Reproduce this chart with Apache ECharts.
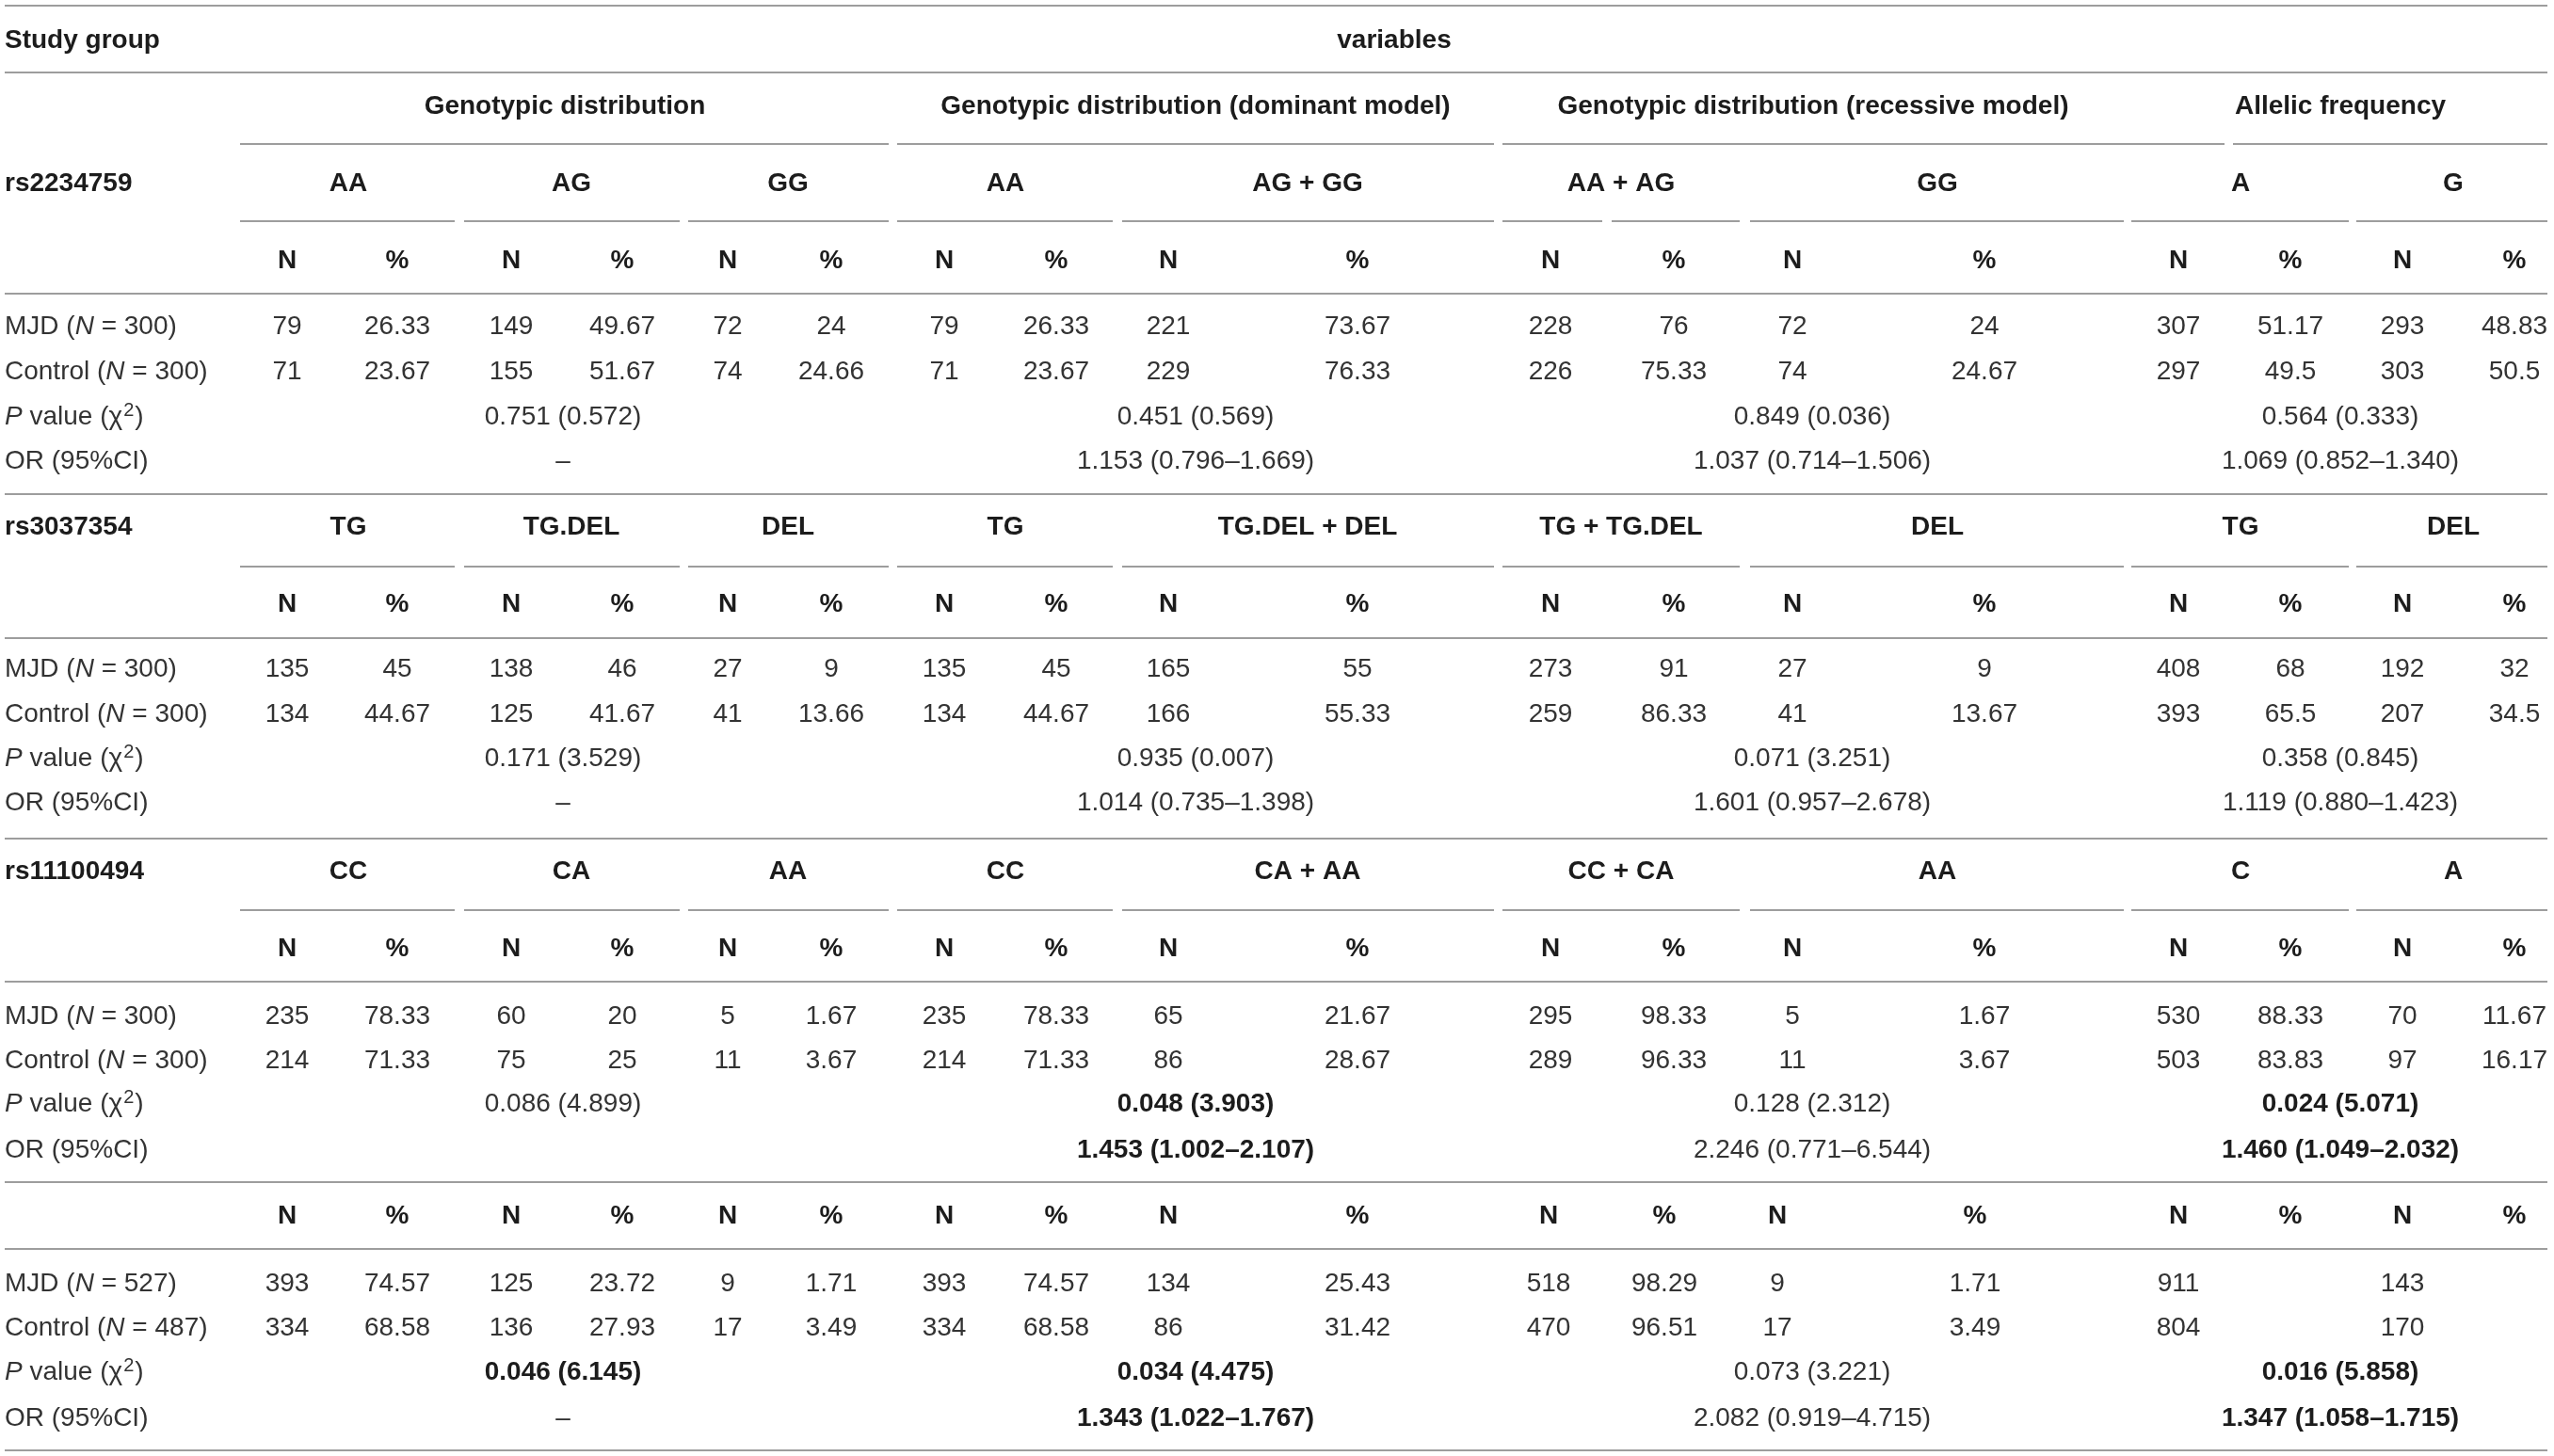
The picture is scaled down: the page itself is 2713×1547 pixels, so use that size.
<!DOCTYPE html>
<html>
<head>
<meta charset="utf-8">
<script src="https://cdn.jsdelivr.net/npm/echarts@6/dist/echarts.min.js"></script>
<style>
  html, body { margin: 0; padding: 0; background: #fff; }
  #table { width: 2713px; height: 1547px; }
</style>
</head>
<body>
<div id="table"></div>
<script>
// ---- table content ----
var titleLeft = 'Study group';
var titleTop = 'variables';
var groupHeaders = ['Genotypic distribution', 'Genotypic distribution (dominant model)',
  'Genotypic distribution (recessive model)', 'Allelic frequency'];
var snpNames = ['rs2234759', 'rs3037354', 'rs11100494', ''];
var countHeaders = ['N', '%', 'N', '%', 'N', '%', 'N', '%', 'N', '%', 'N', '%', 'N', '%', 'N', '%', 'N', '%'];

var subHeaders1 = ['AA', 'AG', 'GG', 'AA', 'AG + GG', 'AA + AG', 'GG', 'A', 'G'];
var subHeaders2 = ['TG', 'TG.DEL', 'DEL', 'TG', 'TG.DEL + DEL', 'TG + TG.DEL', 'DEL', 'TG', 'DEL'];
var subHeaders3 = ['CC', 'CA', 'AA', 'CC', 'CA + AA', 'CC + CA', 'AA', 'C', 'A'];

var mjdSizes = [300, 300, 300, 527];
var controlSizes = [300, 300, 300, 487];

var mjd1 = [79, 26.33, 149, 49.67, 72, 24, 79, 26.33, 221, 73.67, 228, 76, 72, 24, 307, 51.17, 293, 48.83];
var control1 = [71, 23.67, 155, 51.67, 74, 24.66, 71, 23.67, 229, 76.33, 226, 75.33, 74, 24.67, 297, 49.5, 303, 50.5];
var pValue1 = ['0.751 (0.572)', '0.451 (0.569)', '0.849 (0.036)', '0.564 (0.333)'];
var orValue1 = ['–', '1.153 (0.796–1.669)', '1.037 (0.714–1.506)', '1.069 (0.852–1.340)'];

var mjd2 = [135, 45, 138, 46, 27, 9, 135, 45, 165, 55, 273, 91, 27, 9, 408, 68, 192, 32];
var control2 = [134, 44.67, 125, 41.67, 41, 13.66, 134, 44.67, 166, 55.33, 259, 86.33, 41, 13.67, 393, 65.5, 207, 34.5];
var pValue2 = ['0.171 (3.529)', '0.935 (0.007)', '0.071 (3.251)', '0.358 (0.845)'];
var orValue2 = ['–', '1.014 (0.735–1.398)', '1.601 (0.957–2.678)', '1.119 (0.880–1.423)'];

var mjd3 = [235, 78.33, 60, 20, 5, 1.67, 235, 78.33, 65, 21.67, 295, 98.33, 5, 1.67, 530, 88.33, 70, 11.67];
var control3 = [214, 71.33, 75, 25, 11, 3.67, 214, 71.33, 86, 28.67, 289, 96.33, 11, 3.67, 503, 83.83, 97, 16.17];
var pValue3 = ['0.086 (4.899)', '0.048 (3.903)', '0.128 (2.312)', '0.024 (5.071)'];
var orValue3 = ['', '1.453 (1.002–2.107)', '2.246 (0.771–6.544)', '1.460 (1.049–2.032)'];
var pBold3 = [false, true, false, true];
var orBold3 = [false, true, false, true];

var mjd4 = [393, 74.57, 125, 23.72, 9, 1.71, 393, 74.57, 134, 25.43, 518, 98.29, 9, 1.71, 911, null, 143, null];
var control4 = [334, 68.58, 136, 27.93, 17, 3.49, 334, 68.58, 86, 31.42, 470, 96.51, 17, 3.49, 804, null, 170, null];
var pValue4 = ['0.046 (6.145)', '0.034 (4.475)', '0.073 (3.221)', '0.016 (5.858)'];
var orValue4 = ['–', '1.343 (1.022–1.767)', '2.082 (0.919–4.715)', '1.347 (1.058–1.715)'];
var pBold4 = [true, true, false, true];
var orBold4 = [false, true, false, true];

var noBold = [false, false, false, false];

// ---- layout (pixels of the 2713 x 1547 page) ----
var W = 2713, H = 1547;
var leftX = 5, rightX = 2706;
var colX = [305, 422, 543, 661, 773, 883, 1003, 1122, 1241, 1442, 1647, 1778, 1904, 2108, 2314, 2433, 2552, 2671];
var colXLast = [305, 422, 543, 661, 773, 883, 1003, 1122, 1241, 1442, 1645, 1768, 1888, 2098, 2314, 2433, 2552, 2671];
var subX = [370, 607, 837, 1068, 1389, 1722, 2058, 2380, 2606];
var subSpans = [[255, 483], [493, 722], [731, 944], [953, 1182], [1192, 1587], [1596, 1848], [1859, 2256], [2264, 2495], [2503, 2706]];
var groupX = [600, 1270, 1926, 2486];
var groupSpans = [[255, 944], [953, 1587], [1596, 2363], [2372, 2706]];
var statX = [598, 1270, 1925, 2486];
var titleY = 43, groupY = 113, groupLineY = 153;
var fullLines = [6, 77];
var blocks = [
  { subs: subHeaders1, mjd: mjd1, ctrl: control1, p: pValue1, or: orValue1, pb: noBold, ob: noBold,
    snpY: 195, subLineY: 235, countY: 277, lineY: 312, rows: [347, 395, 443, 490], endY: 525, cols: colX, splitSub: true },
  { subs: subHeaders2, mjd: mjd2, ctrl: control2, p: pValue2, or: orValue2, pb: noBold, ob: noBold,
    snpY: 560, subLineY: 602, countY: 642, lineY: 678, rows: [711, 759, 806, 853], endY: 891, cols: colX },
  { subs: subHeaders3, mjd: mjd3, ctrl: control3, p: pValue3, or: orValue3, pb: pBold3, ob: orBold3,
    snpY: 926, subLineY: 967, countY: 1008, lineY: 1043, rows: [1080, 1127, 1173, 1222], endY: 1256, cols: colX },
  { subs: null, mjd: mjd4, ctrl: control4, p: pValue4, or: orValue4, pb: pBold4, ob: orBold4,
    snpY: null, subLineY: null, countY: 1292, lineY: 1327, rows: [1364, 1411, 1458, 1507], endY: 1541, cols: colXLast }
];

// ---- build cells and rules ----
var cells = [];
var rules = [];
function addText(x, y, text, bold, align) {
  if (text === null || text === '') return;
  cells.push({ value: [x, y], text: String(text), bold: !!bold, align: align || 'center' });
}
function addRule(x1, x2, y) { rules.push([x1, y, x2]); }

fullLines.forEach(function (y) { addRule(leftX, rightX, y); });
addText(leftX, titleY, titleLeft, true, 'left');
addText(1481, titleY, titleTop, true);
groupHeaders.forEach(function (g, i) {
  addText(groupX[i], groupY, g, true);
  addRule(groupSpans[i][0], groupSpans[i][1], groupLineY);
});

blocks.forEach(function (b, bi) {
  if (b.snpY !== null) {
    addText(leftX, b.snpY, snpNames[bi], true, 'left');
    b.subs.forEach(function (s, i) {
      addText(subX[i], b.snpY, s, true);
      var sp = subSpans[i];
      if (b.splitSub && i === 5) {
        addRule(sp[0], 1702, b.subLineY);
        addRule(1712, sp[1], b.subLineY);
      } else {
        addRule(sp[0], sp[1], b.subLineY);
      }
    });
  }
  countHeaders.forEach(function (h, i) { addText(b.cols[i], b.countY, h, true); });
  addRule(leftX, rightX, b.lineY);
  addText(leftX, b.rows[0], 'MJD ({i|N} = ' + mjdSizes[bi] + ')', false, 'left');
  addText(leftX, b.rows[1], 'Control ({i|N} = ' + controlSizes[bi] + ')', false, 'left');
  addText(leftX, b.rows[2], '{i|P} value (χ{sup|2})', false, 'left');
  addText(leftX, b.rows[3], 'OR (95%CI)', false, 'left');
  b.mjd.forEach(function (v, i) { addText(b.cols[i], b.rows[0], v, false); });
  b.ctrl.forEach(function (v, i) { addText(b.cols[i], b.rows[1], v, false); });
  b.p.forEach(function (v, i) { addText(statX[i], b.rows[2], v, b.pb[i]); });
  b.or.forEach(function (v, i) { addText(statX[i], b.rows[3], v, b.ob[i]); });
  addRule(leftX, rightX, b.endY);
});

// ---- styles ----
var FONT = '"Liberation Sans", Arial, Helvetica, sans-serif';
var FS = 28;
var normalColor = '#333333', boldColor = '#1c1c1c', ruleColor = '#9d9d9d';
function richFor(bold) {
  var w = bold ? 'bold' : 'normal';
  var c = bold ? boldColor : normalColor;
  return {
    i: { fontFamily: FONT, fontSize: FS, fontWeight: w, fontStyle: 'italic', fill: c, lineHeight: 34 },
    sup: { fontFamily: FONT, fontSize: 20, fontWeight: w, fill: c, verticalAlign: 'top', lineHeight: 34, padding: [0, 1, 0, 1] }
  };
}
var richNormal = richFor(false), richBold = richFor(true);

var myChart = echarts.init(document.getElementById('table'), null, { renderer: 'canvas' });
var option = {
  animation: false,
  backgroundColor: '#ffffff',
  grid: { left: 0, right: 0, top: 0, bottom: 0 },
  xAxis: { type: 'value', min: 0, max: W, show: false },
  yAxis: { type: 'value', min: 0, max: H, inverse: true, show: false },
  series: [
    {
      type: 'custom',
      name: 'rules',
      silent: true,
      clip: false,
      data: rules,
      encode: { x: [0, 2], y: 1 },
      renderItem: function (params, api) {
        var a = api.coord([api.value(0), api.value(1)]);
        var b = api.coord([api.value(2), api.value(1)]);
        return {
          type: 'line',
          shape: { x1: a[0], y1: a[1], x2: b[0], y2: b[1] },
          style: { stroke: ruleColor, lineWidth: 2 }
        };
      }
    },
    {
      type: 'custom',
      name: 'cells',
      silent: true,
      clip: false,
      data: cells,
      encode: { x: 0, y: 1 },
      renderItem: function (params, api) {
        var c = cells[params.dataIndex];
        var p = api.coord([api.value(0), api.value(1)]);
        return {
          type: 'text',
          x: p[0],
          y: p[1],
          style: {
            text: c.text,
            rich: c.bold ? richBold : richNormal,
            fontFamily: FONT,
            fontSize: FS,
            fontWeight: c.bold ? 'bold' : 'normal',
            fill: c.bold ? boldColor : normalColor,
            lineHeight: 34,
            align: c.align,
            verticalAlign: 'middle'
          }
        };
      }
    }
  ]
};
myChart.setOption(option);
</script>
</body>
</html>
